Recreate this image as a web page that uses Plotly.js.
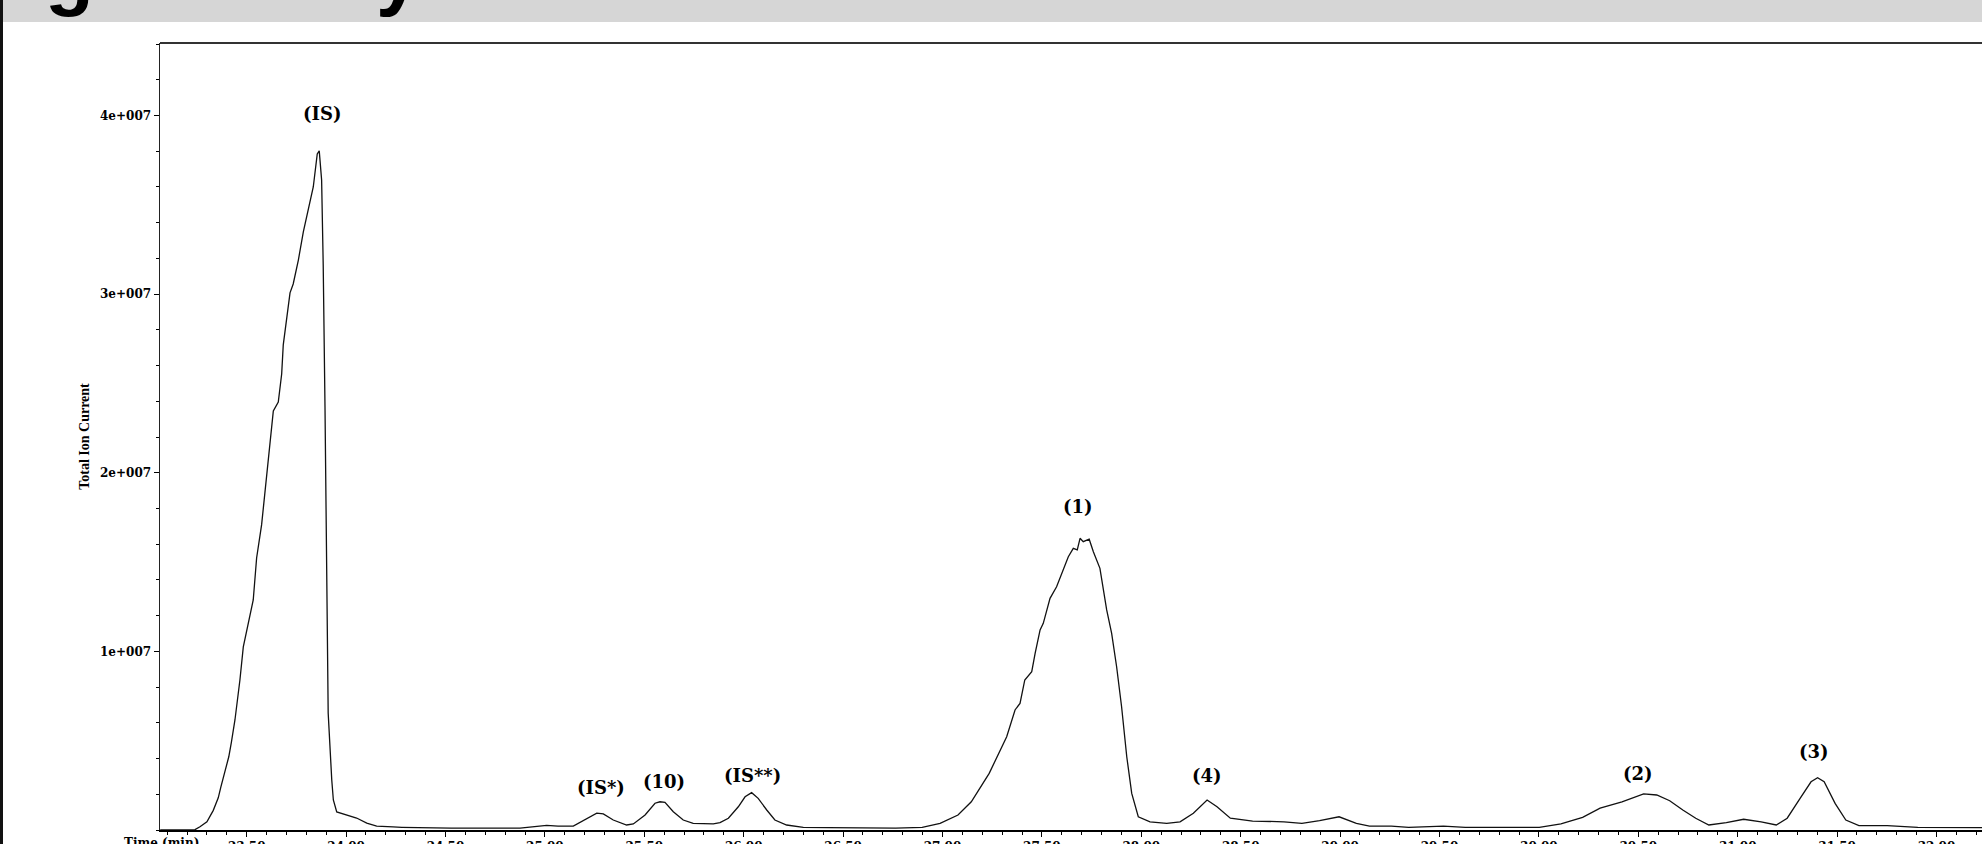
<!DOCTYPE html>
<html><head><meta charset="utf-8">
<script src="https://cdn.plot.ly/plotly-3.0.1.min.js"></script>
<style>
html,body{margin:0;padding:0;background:#fff;overflow:hidden;}
#chart{position:absolute;left:0;top:0;width:1982px;height:844px;}
#band{position:absolute;left:0;top:0;width:1982px;height:22px;background:#d6d6d6;overflow:hidden;}
#band span{position:absolute;top:-67px;font-family:'Liberation Sans',Arial,sans-serif;font-weight:bold;font-size:80px;line-height:80px;color:#000;}
#edge{position:absolute;left:0;top:0;width:3px;height:844px;background:#111;}
</style></head>
<body>
<div id="chart"></div>
<div id="band"><span style="left:45px">g</span><span style="left:376px">y</span></div>
<div id="edge"></div>
<script>
// Retention time (min)
const timeMin = [
23.065, 23.24, 23.265, 23.30, 23.332, 23.357, 23.37, 23.39, 23.41, 23.423, 23.441, 23.466, 23.483, 23.533, 23.550, 23.575, 23.592, 23.617, 23.634, 23.659, 23.676, 23.684, 23.718, 23.734, 23.760, 23.785, 23.818, 23.835, 23.855, 23.865, 23.877, 23.885, 23.894, 23.902, 23.907, 23.910, 23.928, 23.936, 23.953, 24.003, 24.053, 24.104, 24.154, 24.236,
24.281, 24.528, 24.875, 25.009, 25.066, 25.143, 25.202, 25.261, 25.294, 25.344, 25.411, 25.445, 25.504, 25.554, 25.579, 25.604, 25.646, 25.696, 25.746, 25.847, 25.881, 25.923, 25.973, 26.007, 26.040, 26.073, 26.116, 26.157, 26.216, 26.300, 26.427, 26.764, 26.898, 26.988, 27.078, 27.145, 27.235, 27.289, 27.323, 27.365, 27.390, 27.414, 27.449, 27.466, 27.491, 27.507, 27.541, 27.574, 27.600, 27.633, 27.658, 27.678, 27.692, 27.708, 27.738, 27.759, 27.792, 27.826, 27.851, 27.876, 27.901, 27.927, 27.952, 27.985, 28.044, 28.128, 28.195, 28.262, 28.331, 28.381, 28.448, 28.560, 28.718, 28.808, 28.897, 28.995, 29.082, 29.148, 29.258, 29.345, 29.520, 29.630, 30.002, 30.111, 30.220, 30.308, 30.418, 30.527, 30.593, 30.658, 30.724, 30.789, 30.855, 30.943, 31.030, 31.118, 31.194, 31.249, 31.314, 31.369, 31.402, 31.435, 31.490, 31.544, 31.610, 31.752, 31.906, 32.229];

// Total ion current, in millions of counts
const ticMillions = [
0.0, 0.02, 0.18, 0.46, 1.10, 1.80, 2.40, 3.20, 4.10, 4.90, 6.16, 8.40, 10.25, 12.88, 15.23, 17.08, 18.92, 21.84, 23.46, 23.96, 25.53, 27.16, 30.07, 30.57, 31.91, 33.48, 35.22, 36.00, 37.85, 38.02, 36.39, 31.63, 23.68, 16.01, 10.47, 6.55, 2.80, 1.68, 1.01, 0.84, 0.67, 0.39, 0.22, 0.17,
0.15, 0.10, 0.10, 0.26, 0.22, 0.22, 0.56, 0.94, 0.90, 0.56, 0.28, 0.34, 0.84, 1.50, 1.58, 1.55, 1.02, 0.56, 0.37, 0.34, 0.41, 0.66, 1.30, 1.86, 2.09, 1.77, 1.12, 0.56, 0.28, 0.15, 0.13, 0.11, 0.15, 0.37, 0.84, 1.58, 3.17, 4.48, 5.22, 6.72, 7.09, 8.40, 8.86, 9.89, 11.20, 11.57, 12.97, 13.62, 14.37, 15.30, 15.77, 15.68, 16.33, 16.14, 16.28, 15.58, 14.65, 12.32, 11.01, 9.14, 6.90, 4.10, 2.05, 0.74, 0.46, 0.37, 0.46, 0.94, 1.68, 1.30, 0.66, 0.50, 0.46, 0.37, 0.52, 0.74, 0.37, 0.22, 0.22, 0.15, 0.22, 0.15, 0.15, 0.34, 0.71, 1.22, 1.58, 2.02, 1.96, 1.64, 1.12, 0.66, 0.28, 0.41, 0.60, 0.46, 0.28, 0.66, 1.77, 2.70, 2.93, 2.70, 1.49, 0.56, 0.24, 0.24, 0.15, 0.13];

// Peak labels
const peakLabels = ['(IS)', '(IS*)', '(10)', '(IS**)', '(1)', '(4)', '(2)', '(3)'];
const peakLabelTime = [23.881, 25.281, 25.598, 26.044, 27.683, 28.333, 30.498, 31.385];
const peakLabelTic = [40.09, 2.38, 2.73, 3.05, 18.1, 3.05, 3.14, 4.40];

// Tick labels
const xTickVals = [23.5, 24.0, 24.5, 25.0, 25.5, 26.0, 26.5, 27.0, 27.5, 28.0, 28.5, 29.0, 29.5, 30.0, 30.5, 31.0, 31.5, 32.0];
const xTickText = ['23.50','24.00','24.50','25.00','25.50','26.00','26.50','27.00','27.50','28.00','28.50','29.00','29.50','30.00','30.50','31.00','31.50','32.00'];
const yTickVals = [10, 20, 30, 40];
const yTickText = ['1e+007', '2e+007', '3e+007', '4e+007'];

const tickFont = {family: 'DejaVu Serif', size: 12, color: '#000', weight: 'bold'};
const labelFont = {family: 'DejaVu Serif', size: 18, color: '#000', weight: 'bold'};

const trace = {
  x: timeMin, y: ticMillions, type: 'scatter', mode: 'lines',
  line: {color: '#111', width: 1.3}, hoverinfo: 'skip'
};

const annotations = peakLabels.map((t, i) => ({
  text: t, x: peakLabelTime[i], y: peakLabelTic[i], xref: 'x', yref: 'y',
  showarrow: false, xanchor: 'center', yanchor: 'middle', font: labelFont
}));
annotations.push({
  text: 'Time (min)', xref: 'paper', yref: 'paper', x: 0.022, y: -0.006,
  xanchor: 'right', yanchor: 'top', showarrow: false, font: tickFont, borderpad: 0
});

const layout = {
  width: 1982, height: 844,
  margin: {l: 160, r: 0, t: 43, b: 14, pad: 0},
  paper_bgcolor: '#fff', plot_bgcolor: '#fff',
  showlegend: false,
  xaxis: {
    range: [23.064, 32.229], tickmode: 'array', tickvals: xTickVals, ticktext: xTickText,
    ticks: 'outside', ticklen: 5, tickwidth: 1, tickcolor: '#000',
    showline: true, linecolor: '#000', linewidth: 1.5, showgrid: false, zeroline: false,
    tickfont: tickFont,
    minor: {tickmode: 'linear', tick0: 23.5, dtick: 0.1, ticks: 'outside', ticklen: 3, tickwidth: 1, tickcolor: '#000', showgrid: false}
  },
  yaxis: {
    range: [0, 44.06], tickmode: 'array', tickvals: yTickVals, ticktext: yTickText,
    ticks: 'outside', ticklen: 5, tickwidth: 1, tickcolor: '#000',
    showline: true, linecolor: '#222', linewidth: 1.5, showgrid: false, zeroline: false,
    tickfont: tickFont,
    minor: {tickmode: 'linear', tick0: 0, dtick: 2, ticks: 'outside', ticklen: 3, tickwidth: 1, tickcolor: '#000', showgrid: false},
    title: {text: 'Total Ion Current', font: {family: 'Liberation Serif', size: 14, color: '#000', weight: 'bold'}, standoff: 7}
  },
  shapes: [
    {type: 'line', xref: 'paper', yref: 'paper', x0: 0, x1: 1, y0: 1, y1: 1, line: {color: '#333', width: 2}}
  ],
  annotations: annotations
};

Plotly.newPlot('chart', [trace], layout, {displayModeBar: false, staticPlot: true});
</script>
</body></html>
